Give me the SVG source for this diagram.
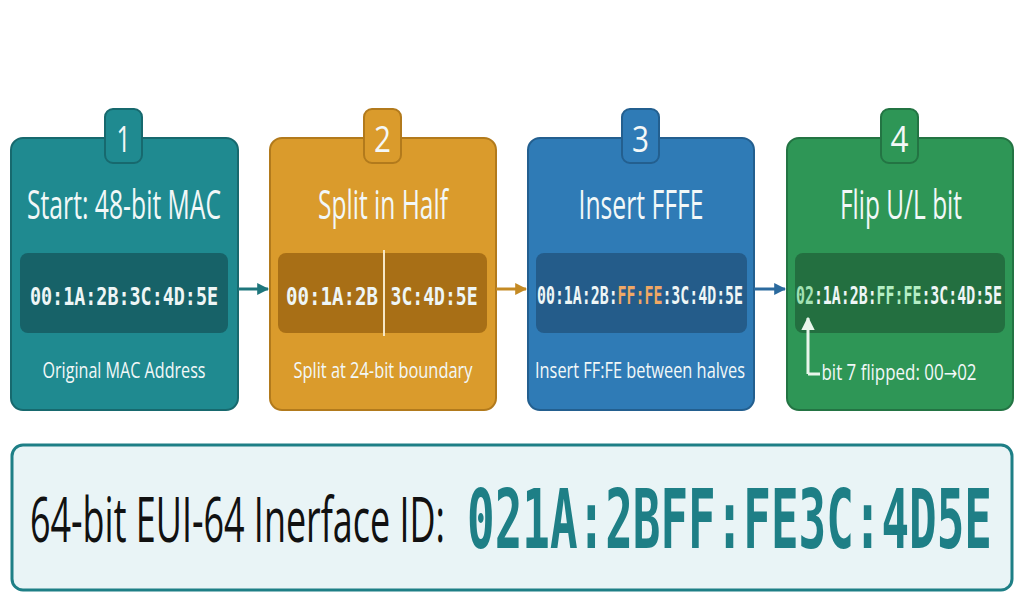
<svg xmlns="http://www.w3.org/2000/svg" width="1024" height="605" viewBox="0 0 1024 605">
<style>
.t{font-family:"Open Sans","Noto Sans",sans-serif;fill:#f2f8f8;text-anchor:middle}
.title{font-size:40px}
.sub{font-size:21px}
.num{font-family:"Open Sans","Noto Sans",sans-serif;font-size:36px;fill:#f4f8f8;text-anchor:middle}
.mono{font-family:"DejaVu Sans Mono","Liberation Mono",monospace;font-weight:bold;font-size:24px;fill:#eef6f6;text-anchor:middle}
.big{font-family:"DejaVu Sans Mono","Liberation Mono",monospace;font-weight:bold;font-size:82px;fill:#1e7f86}
.lbl{font-family:"Open Sans","Noto Sans",sans-serif;font-size:63px;fill:#111}
</style>
<defs>
<marker id="a1" viewBox="0 0 10 10" refX="9" refY="5" markerWidth="4" markerHeight="6.5" markerUnits="strokeWidth" orient="auto"><path d="M0,0 L10,5 L0,10 Z" fill="#1e767c"/></marker>
<marker id="a2" viewBox="0 0 10 10" refX="9" refY="5" markerWidth="4" markerHeight="6.5" markerUnits="strokeWidth" orient="auto"><path d="M0,0 L10,5 L0,10 Z" fill="#c48a24"/></marker>
<marker id="a3" viewBox="0 0 10 10" refX="9" refY="5" markerWidth="4" markerHeight="6.5" markerUnits="strokeWidth" orient="auto"><path d="M0,0 L10,5 L0,10 Z" fill="#2b6a9e"/></marker>
<marker id="aw" viewBox="0 0 10 10" refX="9" refY="5" markerWidth="4.5" markerHeight="4.5" markerUnits="strokeWidth" orient="auto"><path d="M0,0 L10,5 L0,10 Z" fill="#eaf6ec"/></marker>
</defs>
<rect width="1024" height="605" fill="#ffffff"/>

<g id="step1">
<rect x="11" y="138" width="227" height="272" rx="12" fill="#1f8a90" stroke="#17696e" stroke-width="2"/>
<rect x="105" y="109" width="37" height="54" rx="8" fill="#1f8a90" stroke="#17696e" stroke-width="2"/>
<text class="num" x="123.5" y="152" textLength="14" lengthAdjust="spacingAndGlyphs">1</text>
<text class="t title" x="124" y="219" textLength="194" lengthAdjust="spacingAndGlyphs">Start: 48-bit MAC</text>
<rect x="20" y="253" width="208" height="80" rx="8" fill="#176268"/>
<text class="mono" x="124" y="305" textLength="188" lengthAdjust="spacingAndGlyphs">00:1A:2B:3C:4D:5E</text>
<text class="t sub" x="124" y="378" textLength="163" lengthAdjust="spacingAndGlyphs">Original MAC Address</text>
</g>

<g id="step2">
<rect x="270" y="138" width="226" height="272" rx="12" fill="#da9b2c" stroke="#b27a1c" stroke-width="2"/>
<rect x="364" y="109" width="37" height="54" rx="8" fill="#da9b2c" stroke="#b27a1c" stroke-width="2"/>
<text class="num" x="382.5" y="152" textLength="17" lengthAdjust="spacingAndGlyphs">2</text>
<text class="t title" x="383" y="219" textLength="130" lengthAdjust="spacingAndGlyphs">Split in Half</text>
<rect x="278" y="253" width="209" height="80" rx="8" fill="#a86f16"/>
<line x1="384" y1="250" x2="384" y2="336" stroke="#f6e7c6" stroke-width="2"/>
<text class="mono" x="332" y="305" textLength="92" lengthAdjust="spacingAndGlyphs">00:1A:2B</text>
<text class="mono" x="434" y="305" textLength="87" lengthAdjust="spacingAndGlyphs">3C:4D:5E</text>
<text class="t sub" x="383" y="378" textLength="179" lengthAdjust="spacingAndGlyphs">Split at 24-bit boundary</text>
</g>

<g id="step3">
<rect x="528" y="138" width="226" height="272" rx="12" fill="#2f7bb6" stroke="#235f8f" stroke-width="2"/>
<rect x="622" y="109" width="37" height="54" rx="8" fill="#2f7bb6" stroke="#235f8f" stroke-width="2"/>
<text class="num" x="640.5" y="152" textLength="17" lengthAdjust="spacingAndGlyphs">3</text>
<text class="t title" x="641" y="219" textLength="125" lengthAdjust="spacingAndGlyphs">Insert FFFE</text>
<rect x="536" y="253" width="211" height="80" rx="8" fill="#245c8a"/>
<text class="mono" x="640" y="304" textLength="206" lengthAdjust="spacingAndGlyphs">00:1A:2B:<tspan fill="#f0a865">FF:FE</tspan>:3C:4D:5E</text>
<text class="t sub" x="640" y="378" textLength="210" lengthAdjust="spacingAndGlyphs">Insert FF:FE between halves</text>
</g>

<g id="step4">
<rect x="787" y="138" width="226" height="272" rx="12" fill="#2e9656" stroke="#237443" stroke-width="2"/>
<rect x="881" y="109" width="37" height="54" rx="8" fill="#2e9656" stroke="#237443" stroke-width="2"/>
<text class="num" x="899.5" y="152" textLength="18" lengthAdjust="spacingAndGlyphs">4</text>
<text class="t title" x="901" y="219" textLength="122" lengthAdjust="spacingAndGlyphs">Flip U/L bit</text>
<rect x="795" y="253" width="210" height="80" rx="8" fill="#236f40"/>
<text class="mono" x="899" y="304" textLength="206" lengthAdjust="spacingAndGlyphs"><tspan fill="#a3e2b5">02</tspan>:1A:2B:<tspan fill="#b4eec4">FF:FE</tspan>:3C:4D:5E</text>
<path d="M808,374 L820,374 M808,374 L808,318" fill="none" stroke="#eaf6ec" stroke-width="3" marker-end="url(#aw)"/>
<text class="t sub" x="899" y="380" textLength="155" lengthAdjust="spacingAndGlyphs" fill="#eef8f0">bit 7 flipped: 00<tspan font-family="DejaVu Sans, sans-serif" font-size="20px">→</tspan>02</text>
</g>

<g id="connectors">
<line x1="238" y1="289" x2="268" y2="289" stroke="#1e767c" stroke-width="3" marker-end="url(#a1)"/>
<line x1="496" y1="289" x2="526" y2="289" stroke="#c48a24" stroke-width="3" marker-end="url(#a2)"/>
<line x1="754" y1="289" x2="785" y2="289" stroke="#2b6a9e" stroke-width="3" marker-end="url(#a3)"/>
</g>

<g id="result">
<rect x="12" y="445" width="1000" height="145" rx="11" fill="#e9f4f6" stroke="#1e7f86" stroke-width="3"/>
<text class="lbl" x="30" y="542" textLength="415" lengthAdjust="spacingAndGlyphs">64-bit EUI-64 Inerface ID:</text>
<text class="big" x="467" y="548" textLength="525" lengthAdjust="spacingAndGlyphs">021A:2BFF:FE3C:4D5E</text>
</g>
</svg>
